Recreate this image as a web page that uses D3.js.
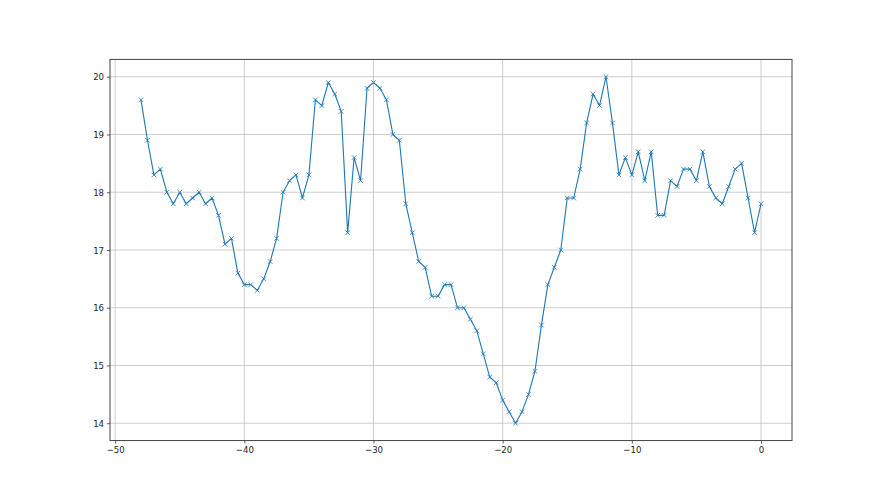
<!DOCTYPE html>
<html>
<head>
<meta charset="utf-8">
<script src="https://cdn.jsdelivr.net/npm/d3@7"></script>
<style>
  body { margin: 0; background: #fff; }
  .tick text { font-family: "DejaVu Sans Condensed", "DejaVu Sans", sans-serif; font-stretch: condensed; font-size: 9.5px; fill: #222; }
</style>
</head>
<body>
<div id="chart"></div>
<script>
// x positions, -48 to 0 in steps of half a unit
var xs = [-48, -47.5, -47, -46.5, -46, -45.5, -45, -44.5, -44, -43.5, -43, -42.5, -42, -41.5, -41, -40.5,
          -40, -39.5, -39, -38.5, -38, -37.5, -37, -36.5, -36, -35.5, -35, -34.5, -34, -33.5, -33, -32.5,
          -32, -31.5, -31, -30.5, -30, -29.5, -29, -28.5, -28, -27.5, -27, -26.5, -26, -25.5, -25, -24.5,
          -24, -23.5, -23, -22.5, -22, -21.5, -21, -20.5, -20, -19.5, -19, -18.5, -18, -17.5, -17, -16.5,
          -16, -15.5, -15, -14.5, -14, -13.5, -13, -12.5, -12, -11.5, -11, -10.5, -10, -9.5, -9, -8.5,
          -8, -7.5, -7, -6.5, -6, -5.5, -5, -4.5, -4, -3.5, -3, -2.5, -2, -1.5, -1, -0.5, 0];

var ys = [19.6, 18.9, 18.3, 18.4, 18.0, 17.8, 18.0, 17.8, 17.9, 18.0, 17.8, 17.9, 17.6, 17.1, 17.2, 16.6,
          16.4, 16.4, 16.3, 16.5, 16.8, 17.2, 18.0, 18.2, 18.3, 17.9, 18.3, 19.6, 19.5, 19.9, 19.7, 19.4,
          17.3, 18.6, 18.2, 19.8, 19.9, 19.8, 19.6, 19.0, 18.9, 17.8, 17.3, 16.8, 16.7, 16.2, 16.2, 16.4,
          16.4, 16.0, 16.0, 15.8, 15.6, 15.2, 14.8, 14.7, 14.4, 14.2, 14.0, 14.2, 14.5, 14.9, 15.7, 16.4,
          16.7, 17.0, 17.9, 17.9, 18.4, 19.2, 19.7, 19.5, 20.0, 19.2, 18.3, 18.6, 18.3, 18.7, 18.2, 18.7,
          17.6, 17.6, 18.2, 18.1, 18.4, 18.4, 18.2, 18.7, 18.1, 17.9, 17.8, 18.1, 18.4, 18.5, 17.9, 17.3, 17.8];

var xTicks = [-50, -40, -30, -20, -10, 0];
var yTicks = [14, 15, 16, 17, 18, 19, 20];

var w = 880,
    h = 495;
// plot box (named so they don't clash with window.top)
var boxLeft = 110, boxRight = 792, boxTop = 59.4, boxBottom = 440.55;

var dataset = xs.map(function(x, i) { return [x, ys[i]]; });

var svg = d3.select('#chart').append('svg')
  .attr('width', w)
  .attr('height', h);

// matplotlib style 5% margins around the data
var xExt = d3.extent(xs), yExt = d3.extent(ys);
var xPad = (xExt[1] - xExt[0]) * 0.05, yPad = (yExt[1] - yExt[0]) * 0.05;

var x = d3.scaleLinear().domain([xExt[0] - xPad, xExt[1] + xPad]).range([boxLeft, boxRight]);
var y = d3.scaleLinear().domain([yExt[0] - yPad, yExt[1] + yPad]).range([boxBottom, boxTop]);

var fmt = function(d) { return String(d).replace('-', '\u2212'); };

// grid
svg.append('g').selectAll('line')
  .data(xTicks).enter().append('line')
    .attr('x1', function(d) { return x(d); })
    .attr('x2', function(d) { return x(d); })
    .attr('y1', boxTop).attr('y2', boxBottom)
    .attr('stroke', '#c0c0c0').attr('stroke-width', 0.8);

svg.append('g').selectAll('line')
  .data(yTicks).enter().append('line')
    .attr('y1', function(d) { return y(d); })
    .attr('y2', function(d) { return y(d); })
    .attr('x1', boxLeft).attr('x2', boxRight)
    .attr('stroke', '#c0c0c0').attr('stroke-width', 0.8);

// axes
svg.append('g')
  .attr('transform', 'translate(0,' + boxBottom + ')')
  .call(d3.axisBottom(x).tickValues(xTicks).tickFormat(fmt).tickSizeInner(3).tickSizeOuter(0).tickPadding(3));

svg.append('g')
  .attr('transform', 'translate(' + boxLeft + ',0)')
  .call(d3.axisLeft(y).tickValues(yTicks).tickFormat(fmt).tickSizeInner(3).tickSizeOuter(0).tickPadding(3));

svg.selectAll('.domain').remove();
svg.selectAll('.tick line').attr('stroke', '#333').attr('stroke-width', 0.8);

// the line
var line = d3.line()
  .x(function(d) { return x(d[0]); })
  .y(function(d) { return y(d[1]); });

svg.append('path')
  .datum(dataset)
  .attr('d', line)
  .attr('fill', 'none')
  .attr('stroke', '#1f77b4')
  .attr('stroke-width', 1.1)
  .attr('stroke-linejoin', 'round');

// x markers
var m = 2.3;
svg.append('g').selectAll('path')
  .data(dataset).enter().append('path')
    .attr('d', function(d) {
      var cx = x(d[0]), cy = y(d[1]);
      return 'M' + (cx - m) + ',' + (cy - m) + 'L' + (cx + m) + ',' + (cy + m) +
             'M' + (cx - m) + ',' + (cy + m) + 'L' + (cx + m) + ',' + (cy - m);
    })
    .attr('stroke', '#1f77b4')
    .attr('stroke-width', 0.8)
    .attr('fill', 'none');

// frame
svg.append('rect')
  .attr('x', boxLeft).attr('y', boxTop)
  .attr('width', boxRight - boxLeft).attr('height', boxBottom - boxTop)
  .attr('fill', 'none')
  .attr('stroke', '#444')
  .attr('stroke-width', 1);
</script>
</body>
</html>
